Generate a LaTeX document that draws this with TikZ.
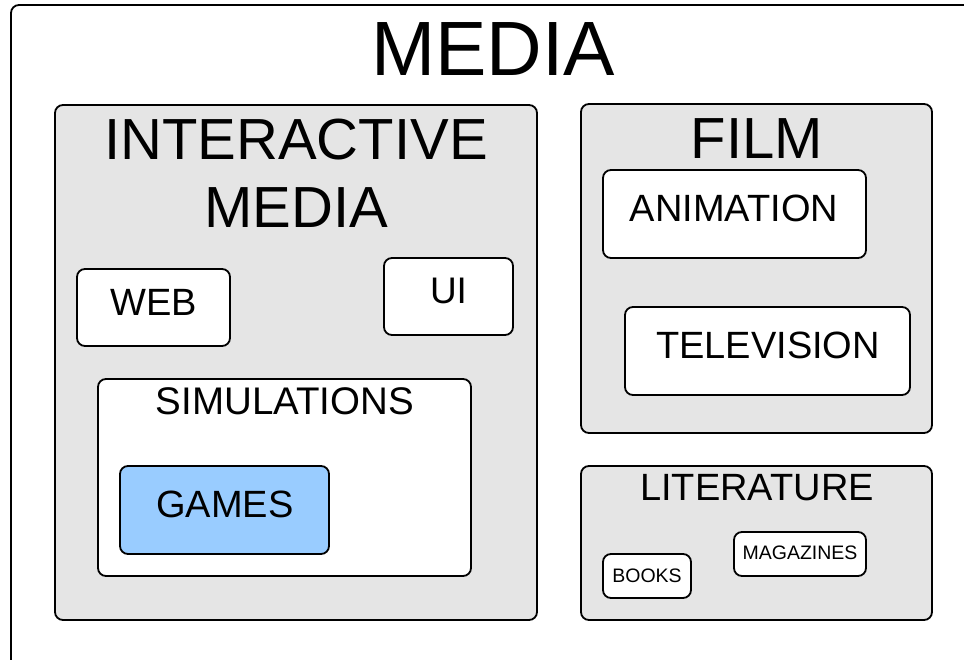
\documentclass[tikz,border=0pt]{standalone}
\usepackage{fontspec}
\setmainfont{Liberation Sans}
\definecolor{panelgray}{HTML}{E5E5E5}
\definecolor{gameblue}{HTML}{99CCFF}
\tikzset{
  frame/.style={draw=black, line width=1.8pt, rounded corners=8pt, inner sep=0pt},
  panel/.style={frame, fill=panelgray},
  card/.style={frame, fill=white},
  gamecard/.style={frame, fill=gameblue},
  lbl/.style={anchor=base, inner sep=0pt, text=black},
}
\newcommand{\fs}[1]{\fontsize{#1}{#1}\selectfont}
\begin{document}
\begin{tikzpicture}[x=1pt, y=-1pt]
  \useasboundingbox (0,0) rectangle (964,660);
  \clip (0,0) rectangle (964,660);
  \fill[white] (0,0) rectangle (964,660);

  % outer frame
  \draw[line width=1.8pt, rounded corners=8pt] (11,676) -- (11,5) -- (980,5);
  \node[lbl] (media) at (493,76) {\fs{77}MEDIA};

  % interactive media
  \node[panel, minimum width=482pt, minimum height=515pt] (inter) at (296,362.5) {};
  \node[lbl] (interT1) at (296,160) {\fs{58}INTERACTIVE};
  \node[lbl] (interT2) at (296,228) {\fs{58}MEDIA};
  \node[card, minimum width=153pt, minimum height=77pt] (web) at (153.5,307.5) {};
  \node[lbl] (webT) at (153.5,316) {\fs{38}WEB};
  \node[card, minimum width=129pt, minimum height=77pt] (ui) at (448.5,296.5) {};
  \node[lbl] (uiT) at (448.5,304) {\fs{37}UI};
  \node[card, minimum width=373pt, minimum height=197pt] (sim) at (284.5,477.5) {};
  \node[lbl] (simT) at (285,414) {\fs{38.5}SIMULATIONS};
  \node[gamecard, minimum width=209pt, minimum height=88pt] (games) at (224.5,510) {};
  \node[lbl] (gamesT) at (225,517) {\fs{38}GAMES};

  % film
  \node[panel, minimum width=351pt, minimum height=329pt] (film) at (756.5,268.5) {};
  \node[lbl] (filmT) at (757,159) {\fs{58}FILM};
  \node[card, minimum width=263pt, minimum height=88pt] (anim) at (734.5,214) {};
  \node[lbl] (animT) at (734,222) {\fs{38}ANIMATION};
  \node[card, minimum width=285pt, minimum height=88pt] (tv) at (767.5,351) {};
  \node[lbl] (tvT) at (768,359) {\fs{38}TELEVISION};

  % literature
  \node[panel, minimum width=351pt, minimum height=154pt] (lit) at (756.5,543) {};
  \node[lbl] (litT) at (757,500) {\fs{38}LITERATURE};
  \node[card, minimum width=88pt, minimum height=44pt] (books) at (647,576) {};
  \node[lbl] (booksT) at (647,582) {\fs{19.5}BOOKS};
  \node[card, minimum width=132pt, minimum height=44pt] (mag) at (800,554) {};
  \node[lbl] (magT) at (800,559) {\fs{19.5}MAGAZINES};
\end{tikzpicture}
\end{document}
